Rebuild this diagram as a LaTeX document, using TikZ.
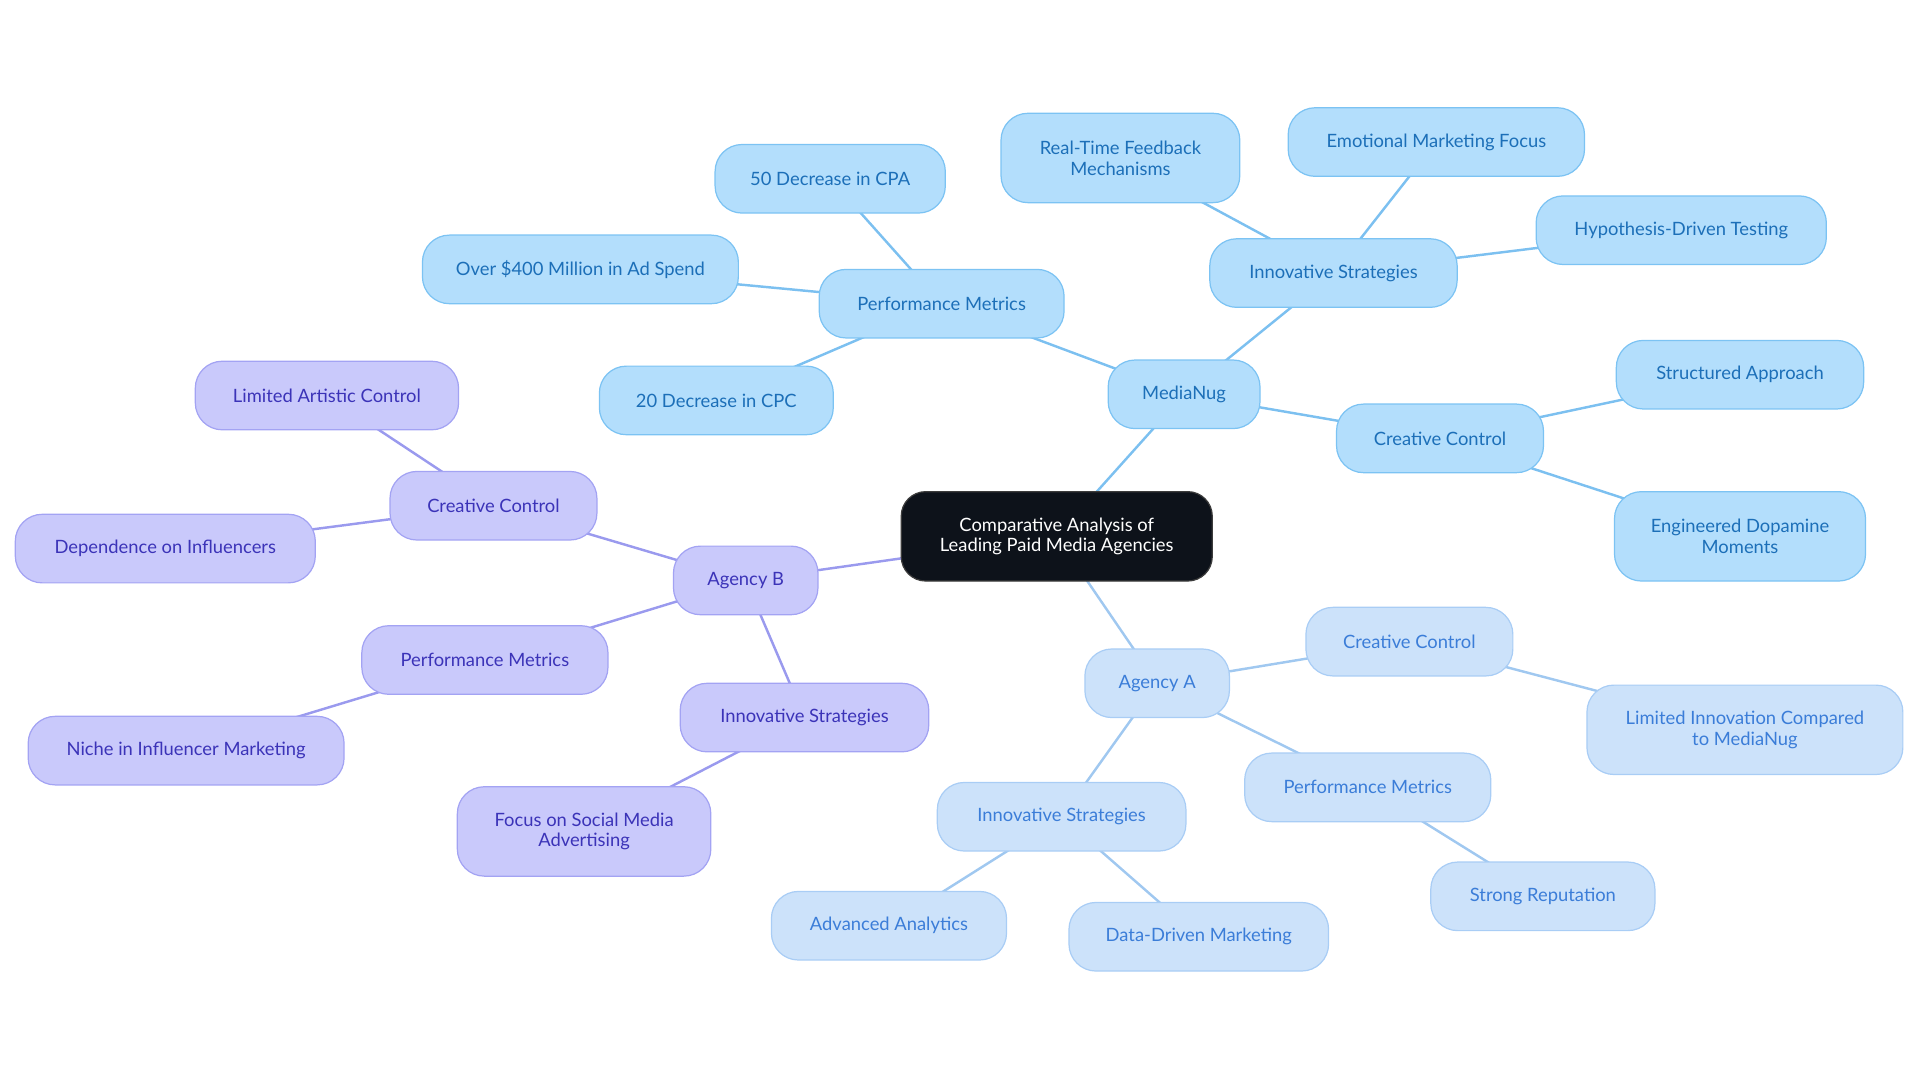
\documentclass[tikz,border=0pt]{standalone}
\usepackage{fontspec}
\setmainfont{Lato}
\usetikzlibrary{backgrounds}
\begin{document}
\begin{tikzpicture}[x=1pt,y=-1pt,
 base/.style={rounded corners=22pt,draw,line width=1pt,align=center,font=\fontsize{15}{17}\selectfont,inner sep=0pt},
 m/.style={base,fill={rgb,255:red,179;green,222;blue,252},draw={rgb,255:red,124;green,195;blue,243},text={rgb,255:red,28;green,111;blue,184}},
 a/.style={base,fill={rgb,255:red,204;green,226;blue,250},draw={rgb,255:red,169;green,205;blue,245},text={rgb,255:red,59;green,125;blue,216}},
 b/.style={base,fill={rgb,255:red,201;green,201;blue,251},draw={rgb,255:red,163;green,163;blue,243},text={rgb,255:red,59;green,51;blue,184}},
 lm/.style={draw={rgb,255:red,124;green,192;blue,240},line width=2pt},
 la/.style={draw={rgb,255:red,160;green,200;blue,240},line width=2pt},
 lb/.style={draw={rgb,255:red,154;green,154;blue,238},line width=2pt}]
\useasboundingbox (0,0) rectangle (1568,884.5);
\newcommand\nd[6]{\node[#1,minimum width=#4pt,minimum height=#5pt] (#2) at (#3) {#6};}
\node[base,rounded corners=20pt,fill={rgb,255:red,13;green,18;blue,26},draw={rgb,255:red,60;green,60;blue,60},text=white,minimum width=254pt,minimum height=73pt] (c) at (863,438) {Comparative Analysis of\\Leading Paid Media Agencies};
\nd{m}{mn}{967,322}{124}{56}{MediaNug}
\nd{m}{pm}{769,248}{200}{56}{Performance Metrics}
\nd{m}{cpa}{678,146}{188}{56}{50 Decrease in CPA}
\nd{m}{ad}{474,220}{258}{56}{Over \$400 Million in Ad Spend}
\nd{m}{cpc}{585,327}{191}{56}{20 Decrease in CPC}
\nd{m}{is}{1089,223}{202}{56}{Innovative Strategies}
\nd{m}{rt}{915,129}{195}{73}{Real-Time Feedback\\Mechanisms}
\nd{m}{em}{1173,116}{242}{56}{Emotional Marketing Focus}
\nd{m}{hy}{1373,188}{237}{56}{Hypothesis-Driven Testing}
\nd{m}{cc}{1176,358}{169}{56}{Creative Control}
\nd{m}{st}{1421,306}{202}{56}{Structured Approach}
\nd{m}{en}{1421,438}{205}{73}{Engineered Dopamine\\Moments}
\nd{a}{aa}{945,558}{118}{56}{Agency A}
\nd{a}{cca}{1151,524}{169}{56}{Creative Control}
\nd{a}{li}{1425,596}{258}{73}{Limited Innovation Compared\\to MediaNug}
\nd{a}{pma}{1117,643}{201}{56}{Performance Metrics}
\nd{a}{sr}{1260,732}{183}{56}{Strong Reputation}
\nd{a}{isa}{867,667}{203}{56}{Innovative Strategies}
\nd{a}{adv}{726,756}{192}{56}{Advanced Analytics}
\nd{a}{dd}{979,765}{212}{56}{Data-Driven Marketing}
\nd{b}{ab}{609,474}{118}{56}{Agency B}
\nd{b}{ccb}{403,413}{169}{56}{Creative Control}
\nd{b}{la}{267,323}{215}{56}{Limited Artistic Control}
\nd{b}{de}{135,448}{245}{56}{Dependence on Influencers}
\nd{b}{pmb}{396,539}{201}{56}{Performance Metrics}
\nd{b}{ni}{152,613}{258}{56}{Niche in Influencer Marketing}
\nd{b}{isb}{657,586}{203}{56}{Innovative Strategies}
\nd{b}{fo}{477,679}{207}{73}{Focus on Social Media\\Advertising}
\begin{scope}[on background layer]
\draw[lm] (c.center)--(mn.center) (mn.center)--(pm.center) (pm.center)--(cpa.center) (pm.center)--(ad.center) (pm.center)--(cpc.center)
 (mn.center)--(is.center) (is.center)--(rt.center) (is.center)--(em.center) (is.center)--(hy.center)
 (mn.center)--(cc.center) (cc.center)--(st.center) (cc.center)--(en.center);
\draw[la] (c.center)--(aa.center) (aa.center)--(cca.center) (cca.center)--(li.center) (aa.center)--(pma.center) (pma.center)--(sr.center)
 (aa.center)--(isa.center) (isa.center)--(adv.center) (isa.center)--(dd.center);
\draw[lb] (c.center)--(ab.center) (ab.center)--(ccb.center) (ccb.center)--(la.center) (ccb.center)--(de.center)
 (ab.center)--(pmb.center) (pmb.center)--(ni.center) (ab.center)--(isb.center) (isb.center)--(fo.center);
\end{scope}
\end{tikzpicture}
\end{document}
